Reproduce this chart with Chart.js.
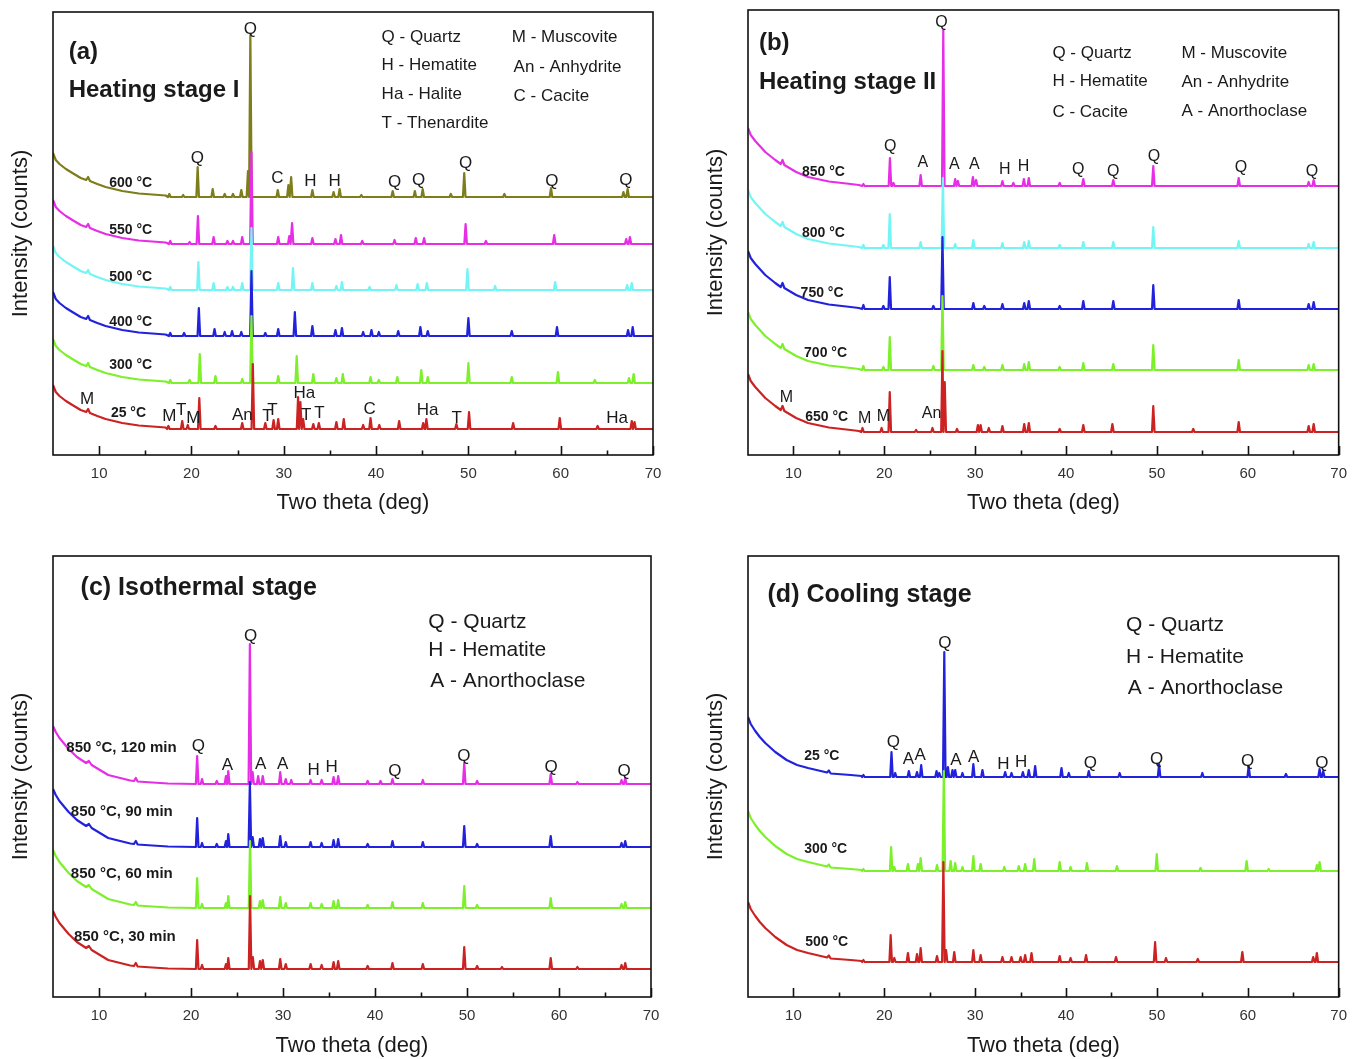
<!DOCTYPE html>
<html>
<head>
<meta charset="utf-8">
<script src="https://cdn.jsdelivr.net/npm/chart.js@4.4.0/dist/chart.umd.min.js"></script>
<style>
  body { margin: 0; background: #fff; width: 1357px; height: 1059px; position: relative; overflow: hidden; }
  .panel { position: absolute; }
</style>
</head>
<body>
<div class="panel" style="left:0;top:0"><canvas id="chartA" width="680" height="528"></canvas></div>
<div class="panel" style="left:695px;top:0"><canvas id="chartB" width="662" height="528"></canvas></div>
<div class="panel" style="left:0;top:530px"><canvas id="chartC" width="680" height="529"></canvas></div>
<div class="panel" style="left:695px;top:530px"><canvas id="chartD" width="662" height="529"></canvas></div>

<script>
// x ticks (two theta, deg)
const xMajor = [10, 20, 30, 40, 50, 60, 70]
const xMinor = [15, 25, 35, 45, 55, 65]

// ---------- (a) Heating stage I ----------
const namesA = ["25 °C", "300 °C", "400 °C", "500 °C", "550 °C", "600 °C"]
const baseA = [26, 72, 119, 165, 211, 258]
// low-angle background above the flat level, [2theta, counts]
const bgA = [[5, 44], [5.3, 37], [5.7, 33], [6.4, 28], [7.1, 24], [8.0, 19], [8.6, 17], [8.8, 20], [9.0, 16], [9.8, 13], [10.7, 10], [12.5, 6], [14.3, 3.5], [17.2, 1.5]]
const peaksA25 = [[17.5, 3], [19.0, 8], [19.6, 4], [20.85, 31], [22.6, 3], [25.5, 6], [26.65, 65], [28.0, 6], [28.9, 9], [29.4, 10], [31.55, 32], [31.8, 27], [32.1, 10], [33.2, 5], [33.8, 6], [35.7, 7], [36.5, 10], [38.6, 4], [39.4, 11], [40.35, 4], [42.5, 8], [45.1, 6], [45.45, 10], [48.7, 5], [50.07, 17], [54.85, 6], [59.9, 11], [64.0, 3], [67.7, 8], [68.0, 7]]
const peaksA300 = [[17.7, 3], [19.8, 3], [20.9, 29], [22.6, 7], [25.5, 4], [26.5, 67], [29.4, 7], [31.4, 27], [33.2, 9], [35.7, 5], [36.4, 9], [39.4, 6], [40.3, 3], [42.3, 6], [44.9, 13], [45.6, 6], [50.0, 20], [54.7, 6], [59.7, 11], [63.7, 3], [67.4, 5], [67.9, 9]]
const peaksA400 = [[17.7, 3], [19.2, 3], [20.8, 28], [22.5, 7], [23.6, 4], [24.4, 5], [25.4, 4], [26.5, 65], [28.0, 3], [29.4, 7], [31.2, 24], [33.1, 10], [35.6, 6], [36.3, 8], [38.6, 4], [39.5, 6], [40.3, 4], [42.4, 5], [44.8, 9], [45.6, 5], [50.0, 18], [54.7, 5], [59.6, 9], [67.3, 6], [67.8, 9]]
const peaksA500 = [[17.7, 3], [20.75, 28], [22.4, 7], [23.9, 3], [24.5, 3], [25.5, 7], [26.5, 62], [29.4, 7], [31.0, 22], [33.1, 7], [35.7, 4], [36.3, 8], [39.3, 3], [42.2, 5], [44.5, 6], [45.5, 7], [49.9, 21], [52.9, 4], [59.4, 8], [67.2, 5], [67.7, 7]]
const peaksA550 = [[17.7, 3], [19.8, 2], [20.7, 28], [22.4, 7], [23.9, 3], [24.5, 3], [25.5, 7], [26.5, 92], [29.4, 7], [30.6, 8], [30.9, 21], [33.1, 6], [35.6, 5], [36.2, 9], [38.5, 3], [42.0, 4], [44.3, 6], [45.2, 6], [49.7, 20], [51.9, 3], [59.3, 9], [67.1, 5], [67.5, 7]]
const peaksA600 = [[17.6, 3], [19.1, 2], [20.67, 30], [22.3, 8], [23.6, 3], [24.5, 3], [25.4, 7], [26.12, 26], [26.38, 162], [29.35, 7], [30.5, 12], [30.8, 20], [33.1, 7], [35.4, 5], [36.05, 8], [38.4, 2], [41.8, 6], [44.2, 6], [45.05, 8], [48.1, 3], [49.55, 24], [53.9, 3], [58.95, 9], [66.8, 5], [67.25, 8]]
const peaksA = [peaksA25, peaksA300, peaksA400, peaksA500, peaksA550, peaksA600]
const phaseLabelsA = [["Q", 26.38, 426], ["Q", 20.63, 297], ["C", 29.31, 277], ["H", 32.89, 274], ["H", 35.5, 274], ["Q", 42.0, 273], ["Q", 44.6, 275], ["Q", 49.7, 292], ["Q", 59.04, 274], ["Q", 67.07, 275], ["M", 8.7, 56], ["M", 17.6, 39], ["T", 18.9, 45], ["M", 20.2, 37], ["An", 25.52, 40], ["T", 28.23, 39], ["T", 28.77, 45], ["Ha", 32.24, 62], ["T", 32.43, 40], ["T", 33.87, 42], ["C", 39.3, 46], ["Ha", 45.59, 45], ["T", 48.73, 37], ["Ha", 66.1, 37]]
const legendA = ["(a)", "Heating stage I", "Q - Quartz", "H - Hematite", "Ha - Halite", "T - Thenardite", "M - Muscovite", "An - Anhydrite", "C - Cacite"]

// ---------- (b) Heating stage II ----------
const namesB = ["650 °C", "700 °C", "750 °C", "800 °C", "850 °C"]
const baseB = [23, 85, 146, 207, 269]
const bgB = [[5, 58], [5.3, 51], [5.8, 45], [6.3, 40], [6.9, 34], [8.0, 26], [8.6, 22], [8.8, 26], [9.0, 21], [10.3, 14], [11.6, 9], [13.9, 4.5], [16.3, 2], [17.2, 1]]
const peaksB650 = [[17.6, 4], [19.7, 4], [20.6, 40], [23.5, 2], [25.3, 4], [26.4, 81], [26.65, 50], [28.0, 3], [30.3, 7], [30.6, 7], [31.5, 4], [33.0, 6], [35.4, 8], [35.9, 9], [39.3, 3], [41.9, 7], [45.1, 8], [49.6, 26], [54.0, 3], [59.0, 10], [66.7, 6], [67.25, 8]]
const peaksB700 = [[17.7, 4], [19.9, 3], [20.6, 33], [25.4, 4], [26.4, 74], [29.8, 5], [31.0, 3], [33.0, 5], [35.4, 6], [35.9, 8], [39.3, 3], [41.9, 7], [45.2, 6], [49.6, 25], [59.0, 10], [66.7, 5], [67.25, 6]]
const peaksB750 = [[17.7, 4], [19.9, 3], [20.6, 32], [25.4, 3], [26.4, 72], [29.8, 6], [31.0, 3], [33.0, 5], [35.4, 6], [35.9, 8], [39.3, 3], [41.9, 8], [45.2, 8], [49.6, 24], [59.0, 9], [66.7, 5], [67.25, 7]]
const peaksB800 = [[17.7, 3], [19.9, 3], [20.6, 34], [24.0, 6], [26.45, 70], [27.8, 4], [29.8, 8], [33.0, 5], [35.4, 6], [35.9, 7], [39.3, 3], [41.9, 6], [45.2, 6], [49.6, 21], [59.0, 7], [66.7, 4], [67.25, 6]]
const peaksB850 = [[17.7, 2], [20.62, 28], [21.0, 3], [24.0, 11], [26.49, 156], [27.8, 7], [28.1, 5], [29.75, 9], [30.1, 6], [33.0, 5], [34.2, 3], [35.36, 7], [35.9, 8], [39.3, 3], [41.9, 7], [45.2, 6], [49.6, 20], [59.0, 8], [66.7, 4], [67.25, 6]]
const peaksB = [peaksB650, peaksB700, peaksB750, peaksB800, peaksB850]
const phaseLabelsB = [["Q", 26.3, 432], ["Q", 20.65, 308], ["A", 24.24, 292], ["A", 27.7, 290], ["A", 29.9, 290], ["H", 33.26, 285], ["H", 35.33, 288], ["Q", 41.35, 285], ["Q", 45.2, 283], ["Q", 49.67, 298], ["Q", 59.24, 287], ["Q", 67.07, 283], ["M", 9.24, 57], ["M", 17.83, 36], ["M", 19.9, 38], ["An", 25.2, 41]]
const legendB = ["(b)", "Heating stage II", "Q - Quartz", "H - Hematite", "C - Cacite", "M - Muscovite", "An - Anhydrite", "A - Anorthoclase"]

// ---------- (c) Isothermal stage ----------
const namesC = ["850 °C, 30 min", "850 °C, 60 min", "850 °C, 90 min", "850 °C, 120 min"]
const baseC = [28, 89, 150, 213]
const bgC = [[5, 58], [5.3, 52], [5.7, 46], [6.7, 35], [7.6, 27], [8.6, 21], [8.9, 23], [9.2, 19], [11.0, 9], [13.4, 3.5], [13.8, 3], [14.0, 6], [14.2, 2.5], [15.8, 1.5], [17.5, 0.5]]
const peaksC30 = [[20.67, 29], [21.2, 4], [23.8, 5], [24.05, 11], [26.42, 73], [26.72, 12], [27.5, 8], [27.8, 9], [29.7, 10], [30.3, 5], [33.0, 5], [34.2, 4], [35.5, 7], [36.0, 8], [39.2, 3], [41.9, 6], [45.2, 5], [49.7, 22], [51.1, 3], [53.8, 2], [59.1, 11], [62.0, 2], [66.8, 4], [67.2, 6]]
const peaksC60 = [[20.67, 30], [21.2, 4], [23.8, 5], [24.05, 12], [26.42, 67], [27.5, 7], [27.8, 8], [29.7, 11], [30.3, 5], [33.0, 5], [34.2, 4], [35.5, 7], [36.0, 8], [39.2, 3], [41.9, 6], [45.2, 5], [49.7, 22], [51.1, 3], [59.1, 10], [66.8, 4], [67.2, 6]]
const peaksC90 = [[20.67, 29], [21.2, 4], [22.8, 3], [23.8, 6], [24.05, 13], [26.4, 65], [26.7, 10], [27.5, 8], [27.8, 9], [29.7, 11], [30.3, 5], [33.0, 5], [34.2, 4], [35.5, 7], [36.0, 8], [39.2, 3], [41.9, 6], [45.2, 5], [49.7, 21], [51.1, 3], [59.1, 11], [66.8, 4], [67.2, 6]]
const peaksC120 = [[20.67, 28], [21.2, 5], [22.8, 3], [23.8, 8], [24.05, 13], [26.4, 140], [26.7, 12], [27.3, 8], [27.8, 8], [29.7, 12], [30.3, 5], [30.9, 4], [33.0, 4], [34.2, 4], [35.5, 7], [36.0, 8], [39.2, 3], [40.6, 3], [41.9, 5], [45.2, 4], [49.7, 21], [51.1, 3], [59.1, 10], [62.0, 2], [66.8, 4], [67.2, 6]]
const peaksC = [peaksC30, peaksC60, peaksC90, peaksC120]
const phaseLabelsC = [["Q", 26.47, 361], ["Q", 20.81, 251], ["A", 23.97, 232], ["A", 27.56, 233], ["A", 29.96, 233], ["H", 33.33, 227], ["H", 35.3, 230], ["Q", 42.16, 226], ["Q", 49.67, 241], ["Q", 59.14, 230], ["Q", 67.09, 226]]
const legendC = ["(c) Isothermal stage", "Q - Quartz", "H - Hematite", "A - Anorthoclase"]

// ---------- (d) Cooling stage ----------
const namesD = ["500 °C", "300 °C", "25 °C"]
const baseD = [35, 126, 220]
const bgD = [[5, 60], [5.3, 53], [5.8, 46], [6.3, 40], [6.9, 34], [8.0, 25], [9.25, 17], [10.4, 12], [11.6, 9], [13.7, 4.5], [13.9, 6.5], [14.1, 3.5], [16.3, 2], [17.5, 1]]
const peaksD500 = [[17.7, 2], [20.7, 27], [21.1, 4], [22.6, 9], [23.6, 8], [24.0, 14], [25.8, 6], [26.5, 100], [26.8, 12], [27.7, 10], [29.8, 12], [30.6, 7], [33.0, 5], [34.0, 5], [35.0, 5], [35.5, 7], [36.2, 9], [39.3, 6], [40.5, 4], [42.2, 7], [45.5, 5], [49.8, 20], [51.0, 4], [54.5, 3], [59.4, 10], [67.2, 5], [67.6, 9]]
const peaksD300 = [[17.7, 2], [20.75, 24], [21.1, 4], [22.6, 7], [23.7, 7], [24.0, 13], [25.8, 6], [26.55, 100], [27.3, 10], [27.8, 8], [28.6, 4], [29.8, 15], [30.6, 7], [33.2, 4], [34.8, 5], [35.5, 7], [36.5, 12], [39.3, 9], [40.5, 4], [42.3, 8], [45.6, 5], [49.98, 17], [54.8, 3], [59.87, 10], [62.3, 2], [67.6, 6], [67.9, 9]]
const peaksD25 = [[17.7, 2], [20.79, 25], [21.2, 4], [22.7, 6], [23.6, 5], [24.06, 12], [25.75, 6], [26.05, 4], [26.6, 125], [27.0, 10], [27.5, 7], [27.8, 7], [28.6, 4], [29.8, 13], [30.8, 7], [33.3, 5], [34.0, 4], [35.25, 5], [35.9, 7], [36.6, 11], [39.5, 9], [40.3, 4], [42.5, 6], [45.9, 4], [50.24, 13], [55.0, 4], [60.1, 11], [64.2, 3], [67.9, 8], [68.3, 6]]
const peaksD = [peaksD500, peaksD300, peaksD25]
const phaseLabelsD = [["Q", 26.67, 354], ["Q", 21.0, 255], ["A", 22.64, 238], ["A", 23.95, 242], ["A", 27.87, 237], ["A", 29.83, 240], ["H", 33.1, 233], ["H", 35.06, 235], ["Q", 42.68, 234], ["Q", 49.97, 238], ["Q", 59.99, 236], ["Q", 68.16, 234]]
const legendD = ["(d) Cooling stage", "Q - Quartz", "H - Hematite", "A - Anorthoclase"]

// ---------- layout / style ----------
const RED = "#cc2222", GREEN = "#7cf02a", BLUE = "#2222dd", CYAN = "#73f5f5", MAGENTA = "#e62ee6", OLIVE = "#7d7d1c"
const FONT = '"Liberation Sans", Arial, sans-serif'
const PEAK_HALF = 0.14

Chart.defaults.font.family = FONT

const panels = [
  {
    id: "chartA", names: namesA, bases: baseA, bg: bgA, peaks: peaksA, labels: phaseLabelsA,
    colors: [RED, GREEN, BLUE, CYAN, MAGENTA, OLIVE],
    yMax: 443, padTop: 12, padRight: 27, axisH: 73, titlePad: 12,
    nameAt: [[11.27, 42], [11.09, 90], [11.09, 133], [11.09, 178], [11.09, 225], [11.09, 272]], nameFont: "bold 14px",
    labelFont: "17px",
    legend: legendA,
    legendAt: [[6.7, 403, "bold 24px"], [6.7, 365, "bold 24px"], [40.6, 418, "17px"], [40.6, 390, "17px"], [40.6, 361, "17px"], [40.6, 332, "17px"], [54.7, 418, "17px"], [54.9, 388, "17px"], [54.9, 359, "17px"]],
  },
  {
    id: "chartB", names: namesB, bases: baseB, bg: bgB, peaks: peaksB, labels: phaseLabelsB,
    colors: [RED, GREEN, BLUE, CYAN, MAGENTA],
    yMax: 445, padTop: 10, padRight: 11, axisH: 73, titlePad: 12,
    nameAt: [[11.3, 38], [11.17, 102], [10.79, 162], [10.93, 222], [10.93, 283]], nameFont: "bold 14px",
    labelFont: "16px",
    legend: legendB,
    legendAt: [[6.2, 412, "bold 24px"], [6.2, 373, "bold 24px"], [38.5, 402, "17px"], [38.5, 374, "17px"], [38.5, 343, "17px"], [52.7, 402, "17px"], [52.7, 373, "17px"], [52.7, 344, "17px"]],
  },
  {
    id: "chartC", names: namesC, bases: baseC, bg: bgC, peaks: peaksC, labels: phaseLabelsC,
    colors: [RED, GREEN, BLUE, MAGENTA],
    yMax: 441, padTop: 26, padRight: 29, axisH: 62, titlePad: 0,
    nameAt: [[7.27, 60], [6.94, 123], [6.94, 185], [6.45, 249]], nameFont: "bold 15px",
    labelFont: "17px",
    legend: legendC,
    legendAt: [[8.0, 409, "bold 25px"], [45.8, 375, "21px"], [45.8, 347, "21px"], [46.0, 316, "21px"]],
  },
  {
    id: "chartD", names: namesD, bases: baseD, bg: bgD, peaks: peaksD, labels: phaseLabelsD,
    colors: [RED, GREEN, BLUE],
    yMax: 441, padTop: 26, padRight: 11, axisH: 62, titlePad: 0,
    nameAt: [[11.3, 55], [11.19, 148], [11.19, 241]], nameFont: "bold 14px",
    labelFont: "17px",
    legend: legendD,
    legendAt: [[7.15, 402, "bold 25px"], [46.6, 372, "21px"], [46.6, 340, "21px"], [46.8, 309, "21px"]],
  },
]

// background points + one narrow spike per listed peak
function buildSeries(base, bg, peaks) {
  const pts = bg.map(p => ({ x: p[0], y: base + p[1] }))
  peaks.forEach(p => {
    pts.push({ x: p[0] - PEAK_HALF, y: base })
    pts.push({ x: p[0], y: base + p[1] })
    pts.push({ x: p[0] + PEAK_HALF, y: base })
  })
  pts.push({ x: 70, y: base })
  return pts.sort((a, b) => a.x - b.x)
}

function decorPlugin(p) {
  return {
    id: "decor",
    afterDatasetsDraw(chart) {
      const { ctx, chartArea: a, scales: { x, y } } = chart
      ctx.save()
      ctx.fillStyle = "#1a1a1a"
      ctx.textBaseline = "middle"

      const put = (text, vx, vy, font, align) => {
        ctx.font = font + " " + FONT
        ctx.textAlign = align
        ctx.fillText(text, x.getPixelForValue(vx), y.getPixelForValue(vy))
      }

      p.labels.forEach(l => put(l[0], l[1], l[2], p.labelFont, "center"))
      p.names.forEach((n, i) => put(n, p.nameAt[i][0], p.nameAt[i][1], p.nameFont, "left"))
      p.legend.forEach((t, i) => put(t, p.legendAt[i][0], p.legendAt[i][1], p.legendAt[i][2], "left"))

      // frame and inward ticks
      ctx.strokeStyle = "#111"
      ctx.lineWidth = 1.6
      ctx.strokeRect(a.left, a.top, a.right - a.left, a.bottom - a.top)
      ctx.beginPath()
      xMajor.forEach(v => {
        const px = Math.round(x.getPixelForValue(v)) + 0.5
        ctx.moveTo(px, a.bottom)
        ctx.lineTo(px, a.bottom - 9)
      })
      xMinor.forEach(v => {
        const px = Math.round(x.getPixelForValue(v)) + 0.5
        ctx.moveTo(px, a.bottom)
        ctx.lineTo(px, a.bottom - 4.5)
      })
      ctx.stroke()
      ctx.restore()
    },
  }
}

panels.forEach(p => {
  const datasets = p.names.map((n, i) => ({
    label: n,
    data: buildSeries(p.bases[i], p.bg, p.peaks[i]),
    borderColor: p.colors[i],
    borderWidth: 2.2,
    pointRadius: 0,
    fill: false,
    tension: 0,
    borderJoinStyle: "round",
  }))

  new Chart(document.getElementById(p.id), {
    type: "line",
    data: { datasets },
    options: {
      responsive: false,
      animation: false,
      parsing: false,
      layout: { padding: { top: p.padTop, right: p.padRight, left: 0, bottom: 0 } },
      plugins: { legend: { display: false }, tooltip: { enabled: false } },
      scales: {
        x: {
          type: "linear",
          min: 5,
          max: 70,
          afterBuildTicks: s => { s.ticks = xMajor.map(v => ({ value: v })) },
          afterFit: s => { s.height = p.axisH },
          grid: { display: false, drawTicks: false },
          border: { display: false },
          ticks: { autoSkip: false, maxRotation: 0, padding: 10, color: "#333", font: { size: 15 } },
          title: { display: true, text: "Two theta (deg)", color: "#1a1a1a", font: { size: 22 }, padding: { top: 0, bottom: p.titlePad } },
        },
        y: {
          type: "linear",
          min: 0,
          max: p.yMax,
          afterFit: s => { s.width = 53 },
          grid: { display: false, drawTicks: false },
          border: { display: false },
          ticks: { display: false },
          title: { display: true, text: "Intensity (counts)", color: "#1a1a1a", font: { size: 22 }, padding: { top: 8, bottom: 0 } },
        },
      },
    },
    plugins: [decorPlugin(p)],
  })
})
</script>
</body>
</html>
